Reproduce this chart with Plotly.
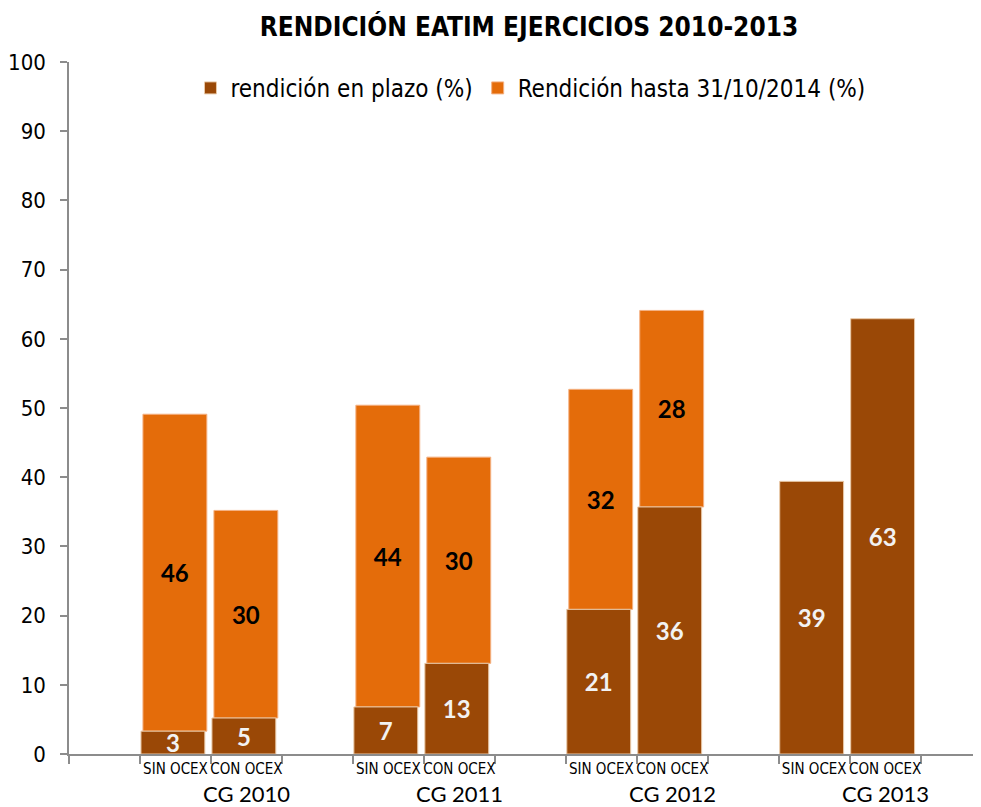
import plotly.graph_objects as go

# data
groups = ["CG 2010", "CG 2011", "CG 2012", "CG 2013"]
subgroups = ["SIN OCEX", "CON OCEX"]
plazo = [3.3, 5.2, 6.8, 13.1, 20.9, 35.7, 39.4, 62.9]      # rendición en plazo (%)
hasta = [45.8, 30.0, 43.6, 29.8, 31.8, 28.4, None, None]   # Rendición hasta 31/10/2014 (%)
y_ticks = [0, 10, 20, 30, 40, 50, 60, 70, 80, 90, 100]

BROWN = "#9A4806"
ORANGE = "#E46C0A"
NARROW = "DejaVu Sans Condensed, Liberation Sans Narrow, sans-serif"
NORMAL = "Lato, Open Sans, sans-serif"

# the page body has an 8px margin, so the figure is 8px smaller each way
W, H = 973, 799

# category keys: an empty slot before each pair of bars (as in the original sheet)
keys, labels, bar_keys = [], [], []
for g in groups:
    keys.append(g + "|gap")
    labels.append("")
    for s in subgroups:
        keys.append(g + "|" + s)
        labels.append(s)
        bar_keys.append(g + "|" + s)

fig = go.Figure()

# orange part sits on top of the brown part; drawn first so the brown labels stay visible
fig.add_trace(go.Bar(
    x=bar_keys, y=hasta, base=plazo,
    name="Rendición hasta 31/10/2014 (%)", legendrank=2,
    marker=dict(color=ORANGE, line=dict(color="#F4B183", width=1)),
    width=0.9, offset=-0.458,
    text=[f"{v:.0f}" if v is not None else "" for v in hasta],
    textposition="inside", insidetextanchor="middle", textangle=0,
    constraintext="none", cliponaxis=False,
    textfont=dict(family=NORMAL, size=24, color="black", weight="bold"),
    hoverinfo="skip",
))

fig.add_trace(go.Bar(
    x=bar_keys, y=plazo,
    name="rendición en plazo (%)", legendrank=1,
    marker=dict(color=BROWN, line=dict(color="#E9C9A8", width=1)),
    width=0.9, offset=-0.486,
    text=[f"{v:.0f}" for v in plazo],
    textposition="inside", insidetextanchor="middle", textangle=0,
    constraintext="none", cliponaxis=False,
    textfont=dict(family=NORMAL, size=24, color="#F2F2F2", weight="bold"),
    hoverinfo="skip",
))

# group labels under each pair
for g in groups:
    fig.add_annotation(
        x=g + "|CON OCEX", xref="x",
        y=0, yref="paper", yanchor="middle", yshift=-39,
        text=g, showarrow=False,
        font=dict(family=NORMAL, size=22, color="black"),
    )

fig.update_layout(
    width=W, height=H,
    barmode="overlay",
    plot_bgcolor="white", paper_bgcolor="white",
    margin=dict(l=61, r=0, t=54, b=53, autoexpand=False),
    title=dict(
        text="<b>RENDICIÓN EATIM EJERCICIOS 2010-2013</b>",
        x=521 / W, xanchor="center", y=1 - 19 / H, yanchor="middle",
        font=dict(family=NARROW, size=26, color="black"),
    ),
    legend=dict(
        orientation="h", traceorder="normal",
        x=0.506, xanchor="center", y=0.962, yanchor="middle",
        font=dict(family=NARROW, size=24, color="black"),
        bgcolor="rgba(0,0,0,0)",
    ),
    showlegend=True,
)

fig.update_xaxes(
    type="category",
    categoryorder="array", categoryarray=keys,
    tickmode="array", tickvals=keys, ticktext=labels,
    tickson="boundaries",
    range=[-0.5, 12.35],
    showline=True, linecolor="#8C8C8C", linewidth=1.5,
    ticks="outside", ticklen=8, tickcolor="#8C8C8C", tickwidth=1.5,
    showgrid=False, automargin=False,
    tickfont=dict(family=NARROW, size=15, color="black"),
    tickangle=0,
)

fig.update_yaxes(
    range=[0, 100],
    tickvals=y_ticks,
    showline=True, linecolor="#8C8C8C", linewidth=1.5,
    ticks="outside", ticklen=7, tickcolor="#8C8C8C", tickwidth=1.5,
    showgrid=False, zeroline=False, automargin=False,
    tickfont=dict(family=NARROW, size=22, color="black"),
    ticklabelstandoff=10,
)

fig.write_html("out.html")
